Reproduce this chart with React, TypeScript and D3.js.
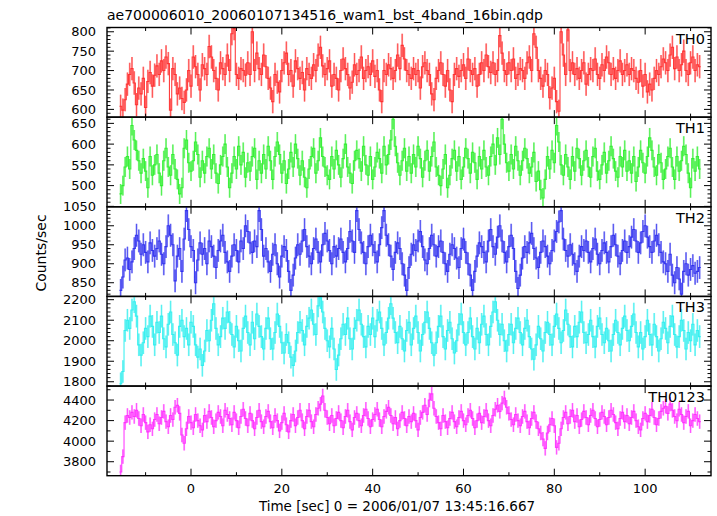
import React from "react";
import * as d3 from "d3";

// ---- data (0.5 s bins starting at t = -15.5 s) ----
const binStart = -15.5;
const binWidth = 0.5;

const th0 = [
  608, 598, 625, 665, 690, 705, 668, 612, 655, 640, 680, 605, 672, 695, 660, 688,
  712, 690, 725, 700, 735, 718, 598, 705, 690, 640, 655, 628, 618, 650, 700, 660,
  735, 710, 690, 650, 715, 705, 690, 762, 735, 700, 680, 650, 720, 705, 690, 740,
  700, 795, 808, 690, 680, 705, 700, 688, 720, 690, 800, 700, 745, 705, 690, 740,
  710, 680, 655, 620, 690, 670, 645, 700, 720, 745, 690, 700, 660, 725, 705, 680,
  695, 650, 705, 690, 680, 715, 700, 740, 760, 712, 690, 705, 725, 660, 690, 680,
  650, 700, 730, 705, 690, 655, 670, 715, 690, 700, 735, 680, 700, 710, 690, 725,
  685, 700, 650, 620, 700, 690, 715, 705, 680, 700, 740, 705, 765, 730, 700, 690,
  680, 705, 690, 700, 655, 710, 720, 700, 690, 640, 625, 680, 700, 720, 690, 660,
  700, 650, 620, 690, 705, 685, 700, 715, 680, 730, 700, 690, 705, 660, 690, 720,
  700, 740, 710, 695, 720, 690, 700, 790, 745, 700, 690, 720, 700, 730, 680, 690,
  705, 700, 680, 720, 735, 700, 795, 760, 700, 680, 660, 700, 690, 630, 655, 680,
  620, 595, 800, 740, 690, 805, 700, 720, 690, 705, 680, 700, 720, 665, 690, 705,
  700, 730, 690, 680, 715, 700, 735, 720, 690, 705, 680, 700, 725, 690, 700, 715,
  690, 705, 700, 680, 670, 700, 660, 690, 645, 665, 650, 680, 700, 690, 710, 730,
  720, 700, 740, 760, 705, 735, 700, 715, 750, 700, 690, 720, 735, 700, 715, 710,
];

const th1 = [
  480, 500, 545, 570, 540, 645, 610, 585, 560, 530, 565, 535, 495, 570, 525, 550,
  575, 530, 500, 560, 590, 545, 525, 575, 540, 515, 480, 495, 590, 610, 555, 535,
  560, 605, 575, 520, 560, 530, 570, 590, 540, 575, 530, 505, 550, 570, 600, 545,
  495, 530, 570, 540, 595, 550, 580, 520, 555, 535, 570, 590, 515, 560, 530, 575,
  540, 595, 560, 515, 570, 605, 575, 530, 560, 505, 540, 580, 545, 600, 565, 525,
  560, 520, 495, 540, 570, 590, 530, 560, 615, 570, 545, 525, 515, 570, 540, 585,
  550, 520, 565, 600, 545, 530, 505, 560, 585, 565, 535, 595, 550, 525, 570, 515,
  545, 580, 565, 530, 595, 550, 575, 610, 660, 595, 555, 525, 560, 590, 535, 570,
  530, 575, 545, 595, 565, 520, 560, 585, 535, 570, 605, 545, 525, 500, 540, 575,
  495, 525, 565, 585, 535, 570, 515, 545, 590, 565, 530, 580, 555, 515, 570, 540,
  585, 545, 525, 570, 600, 550, 615, 575, 660, 600, 555, 535, 575, 540, 595, 560,
  525, 560, 590, 565, 530, 545, 580, 510, 535, 490, 470, 515, 570, 540, 585, 555,
  645, 605, 550, 525, 575, 545, 515, 570, 535, 590, 565, 525, 560, 585, 545, 520,
  570, 590, 535, 515, 550, 580, 530, 560, 595, 565, 535, 520, 570, 545, 585, 535,
  560, 530, 570, 510, 545, 585, 555, 530, 570, 615, 585, 545, 525, 575, 555, 515,
  540, 570, 590, 545, 515, 570, 535, 560, 595, 575, 530, 495, 565, 535, 570, 540,
];

const th2 = [
  830, 865, 910, 915, 885, 905, 940, 975, 960, 925, 950, 930, 905, 955, 935, 920,
  940, 960, 925, 900, 945, 1000, 975, 950, 855, 920, 940, 880, 965, 1040, 990, 945,
  935, 850, 910, 955, 925, 940, 900, 960, 945, 920, 890, 935, 960, 975, 930, 905,
  880, 920, 950, 935, 905, 960, 940, 1000, 985, 955, 930, 960, 945, 1040, 990, 920,
  940, 905, 880, 925, 950, 900, 865, 920, 945, 935, 880, 830, 870, 915, 950, 925,
  960, 990, 945, 920, 900, 940, 965, 930, 905, 950, 980, 960, 935, 900, 945, 920,
  940, 965, 930, 905, 940, 985, 960, 930, 1040, 990, 955, 930, 900, 945, 975, 950,
  930, 905, 950, 995, 1040, 975, 950, 920, 885, 930, 955, 940, 900, 870, 830, 890,
  925, 950, 935, 960, 985, 945, 910, 900, 940, 975, 950, 920, 945, 960, 930, 900,
  880, 925, 950, 940, 915, 890, 940, 965, 930, 900, 870, 830, 880, 920, 955, 945,
  930, 905, 960, 990, 945, 925, 970, 1000, 960, 930, 905, 945, 975, 940, 880, 835,
  870, 915, 945, 930, 955, 980, 940, 915, 890, 930, 960, 945, 920, 900, 935, 960,
  985, 1010, 1040, 965, 935, 920, 950, 925, 900, 880, 920, 945, 935, 960, 930, 905,
  940, 965, 925, 900, 935, 955, 930, 905, 945, 975, 950, 920, 900, 935, 960, 930,
  945, 970, 990, 960, 930, 955, 985, 1000, 970, 945, 930, 960, 975, 950, 930, 905,
  900, 880, 925, 870, 850, 890, 860, 820, 880, 900, 870, 885, 895, 875, 880, 890,
];

const th3 = [
  1790, 1850, 2050, 2100, 2060, 2150, 2190, 2120, 1980, 1930, 1990, 2060, 2020, 2120, 2070, 1980,
  2090, 2040, 2120, 2010, 1970, 2080, 2140, 2030, 1990, 1930, 2070, 2100, 2020, 2060, 1980, 2090,
  2070, 1980, 1920, 1960, 1880, 1950, 2050, 2000, 2100, 2180, 2060, 1980, 2020, 2110, 2060, 2140,
  2090, 2030, 1970, 2070, 2000, 1950, 2060, 2120, 2040, 1980, 2090, 2010, 2130, 2070, 2020, 1960,
  2060, 2110, 2010, 1960, 2040, 2130, 2070, 1990, 1940, 2030, 1990, 1920, 1880, 1950, 2040, 2090,
  2050, 1980, 2070, 2110, 2150, 2080, 2030, 2170, 2210, 2140, 2060, 2000, 1970, 2060, 1960, 1860,
  1930, 2010, 2080, 2030, 2110, 2010, 1960, 2060, 2100, 2150, 2080, 2020, 1970, 2070, 2030, 2110,
  2020, 2100, 2140, 2060, 1980, 2040, 2110, 2180, 2110, 2040, 1990, 2070, 2010, 1950, 2050, 2090,
  1980, 2060, 2120, 2040, 1950, 2030, 2090, 2140, 2060, 1990, 1930, 1990, 2070, 2120, 2020, 1960,
  2050, 2090, 2010, 1940, 2000, 2080, 2130, 2040, 1980, 2040, 2110, 2020, 1960, 2060, 1990, 2080,
  2120, 2030, 1980, 2070, 2140, 2190, 2100, 2030, 2080, 2000, 1950, 2030, 2080, 1990, 2060, 2110,
  2040, 1980, 2060, 2100, 2020, 1960, 1910, 1980, 2070, 2010, 1950, 2040, 2090, 2030, 1980, 2070,
  2130, 2060, 1990, 2050, 2150, 2080, 2020, 1970, 2070, 2020, 2090, 2140, 2040, 1990, 2030, 2100,
  2020, 1970, 2070, 2110, 2030, 1990, 2060, 2000, 1950, 2030, 2100, 2040, 1980, 2060, 2120, 2050,
  2000, 2070, 2130, 2040, 1970, 2040, 1960, 2020, 2100, 2030, 1980, 2080, 2020, 1950, 2010, 2090,
  2060, 1990, 2070, 2120, 2030, 1970, 2020, 2100, 2050, 1960, 2040, 2000, 2080, 1980, 2050, 2020,
];

const th0123 = [
  3700, 3850, 4180, 4250, 4230, 4280, 4240, 4300, 4220, 4150, 4260, 4180, 4090, 4160, 4120, 4210,
  4260, 4170, 4230, 4290, 4190, 4140, 4250, 4210, 4330, 4350, 4270, 4060, 3980, 4120, 4240, 4180,
  4130, 4260, 4200, 4150, 4110, 4250, 4190, 4290, 4230, 4140, 4200, 4280, 4240, 4150, 4300, 4260,
  4220, 4160, 4280, 4200, 4130, 4240, 4310, 4220, 4150, 4270, 4200, 4120, 4230, 4300, 4190, 4140,
  4240, 4290, 4190, 4130, 4250, 4200, 4100, 4180, 4270, 4160, 4090, 4200, 4260, 4150, 4230, 4300,
  4200, 4120, 4240, 4300, 4190, 4140, 4260, 4320, 4360, 4440, 4300, 4230, 4170, 4250, 4150, 4220,
  4280, 4200, 4130, 4240, 4300, 4190, 4110, 4230, 4270, 4200, 4150, 4250, 4310, 4220, 4140, 4210,
  4260, 4310, 4210, 4140, 4240, 4290, 4330, 4250, 4170, 4230, 4120, 4200, 4280, 4220, 4150, 4240,
  4190, 4270, 4200, 4110, 4230, 4280, 4350, 4260, 4400, 4460, 4320, 4240, 4180, 4120, 4250, 4190,
  4130, 4220, 4280, 4190, 4140, 4230, 4290, 4200, 4160, 4250, 4300, 4220, 4130, 4200, 4270, 4180,
  4240, 4300, 4200, 4150, 4250, 4310, 4350, 4290, 4370, 4420, 4330, 4270, 4210, 4160, 4260, 4200,
  4150, 4240, 4290, 4190, 4130, 4220, 4280, 4190, 4120, 4080, 4020, 3930, 4080, 4160, 4220, 4150,
  3940, 3980, 4120, 4230, 4280, 4170, 4240, 4300, 4190, 4250, 4140, 4210, 4290, 4230, 4160, 4250,
  4300, 4220, 4140, 4210, 4280, 4240, 4160, 4230, 4300, 4260, 4180, 4120, 4220, 4280, 4190, 4250,
  4170, 4230, 4290, 4200, 4140, 4110, 4220, 4270, 4190, 4250, 4310, 4230, 4160, 4220, 4290, 4320,
  4340, 4270, 4360, 4300, 4240, 4200, 4310, 4260, 4180, 4240, 4290, 4150, 4200, 4260, 4220, 4190,
];

const seriesNames = ["TH0", "TH1", "TH2", "TH3", "TH0123"];
const seriesValues = [th0, th1, th2, th3, th0123];
const seriesErrors = [30, 24, 30, 55, 70];
const yTickLabels = [
  [600, 650, 700, 750, 800],
  [500, 550, 600, 650],
  [850, 900, 950, 1000, 1050],
  [1800, 1900, 2000, 2100, 2200],
  [3800, 4000, 4200, 4400],
];
const xTickLabels = [0, 20, 40, 60, 80, 100];
const titleText = "ae700006010_20060107134516_wam1_bst_4band_16bin.qdp";
const xLabelText = "Time [sec] 0 = 2006/01/07 13:45:16.667";
const yLabelText = "Counts/sec";

// ---- layout / style ----
const W = 717;
const H = 516;
const L = 107;
const R = 711;
const TOP = 27.5;
const BOTTOM = 475.7;
const PH = (BOTTOM - TOP) / 5;
const yDomains = [
  [580, 811],
  [449, 665],
  [814, 1050],
  [1779, 2216],
  [3664, 4536],
];
const yMajor = [50, 50, 50, 100, 200];
const yMinor = [10, 10, 10, 20, 100];
const colors = ["#ff2a2a", "#2aee2a", "#2a2aee", "#2aeeee", "#ff2aff"];
const FONT = "DejaVu Sans";

export default function App() {
  const x = d3.scaleLinear().domain([-18.5, 114.5]).range([L, R]);
  const xTicks = d3.range(-10, 115, 10);

  return (
    <svg
      width={W}
      height={H}
      viewBox={`0 0 ${W} ${H}`}
      style={{ position: "absolute", left: 0, top: 0, background: "#fff" }}
      fontFamily={FONT}
    >
      <rect x={0} y={0} width={W} height={H} fill="#fff" />
      <defs>
        {seriesNames.map((_, p) => (
          <clipPath id={`clip${p}`} key={p}>
            <rect x={L} y={TOP + p * PH} width={R - L} height={PH} />
          </clipPath>
        ))}
      </defs>

      {seriesNames.map((name, p) => {
        const top = TOP + p * PH;
        const bot = top + PH;
        const y = d3.scaleLinear().domain(yDomains[p]).range([bot, top]);
        const vals = seriesValues[p];
        const e = seriesErrors[p];
        let errPath = "";
        let stepPath = "";
        vals.forEach((v, i) => {
          const t = binStart + i * binWidth;
          const xc = x(t);
          errPath += `M${xc.toFixed(2)},${y(v - e).toFixed(2)}V${y(v + e).toFixed(2)}`;
          const xa = x(t - binWidth / 2).toFixed(2);
          const xb = x(t + binWidth / 2).toFixed(2);
          const yv = y(v).toFixed(2);
          stepPath += i === 0 ? `M${xa},${yv}H${xb}` : `V${yv}H${xb}`;
        });
        const [d0, d1] = yDomains[p];
        const yTicks = d3
          .range(Math.ceil(d0 / yMinor[p]) * yMinor[p], d1 + 0.001, yMinor[p])
          .filter((v) => v > d0 && v < d1);
        return (
          <g key={name}>
            <g clipPath={`url(#clip${p})`}>
              <path d={errPath} stroke={colors[p]} strokeWidth={1.8} strokeOpacity={0.5} fill="none" />
              <path d={stepPath} stroke={colors[p]} strokeWidth={1.1} strokeOpacity={0.9} fill="none" />
              <path d={errPath} stroke={colors[p]} strokeWidth={0.8} strokeOpacity={0.75} fill="none" />
            </g>
            {yTicks.map((v) => {
              const major = Math.abs(v % yMajor[p]) < 1e-6;
              const len = major ? 7 : 3.5;
              const yy = y(v);
              return (
                <g key={`yt${v}`} stroke="#000" strokeWidth={1}>
                  <line x1={L} x2={L + len} y1={yy} y2={yy} />
                  <line x1={R} x2={R - len} y1={yy} y2={yy} />
                </g>
              );
            })}
            {xTicks.map((t) => {
              const major = t % 20 === 0;
              const len = major ? 7 : 3.5;
              const xx = x(t);
              return (
                <g key={`xt${t}`} stroke="#000" strokeWidth={1}>
                  <line x1={xx} x2={xx} y1={bot} y2={bot - len} />
                  <line x1={xx} x2={xx} y1={top} y2={top + len} />
                </g>
              );
            })}
            <rect x={L} y={top} width={R - L} height={PH} fill="none" stroke="#000" strokeWidth={1.4} />
            {yTickLabels[p].map((v) => (
              <text key={`yl${v}`} x={96} y={y(v)} dy="0.36em" textAnchor="end" fontSize={13} fill="#000">
                {v}
              </text>
            ))}
            <text x={705} y={top + 16} textAnchor="end" fontSize={14.5} fill="#000">
              {name}
            </text>
          </g>
        );
      })}

      {xTickLabels.map((t) => (
        <text key={`xl${t}`} x={x(t)} y={493} textAnchor="middle" fontSize={13} fill="#000">
          {t}
        </text>
      ))}

      <text x={107} y={20} fontSize={14} fill="#000">
        {titleText}
      </text>
      <text x={397} y={511} textAnchor="middle" fontSize={13.5} fill="#000">
        {xLabelText}
      </text>
      <text
        transform={`translate(46,253) rotate(-90)`}
        textAnchor="middle"
        fontSize={14}
        fill="#000"
      >
        {yLabelText}
      </text>
    </svg>
  );
}
